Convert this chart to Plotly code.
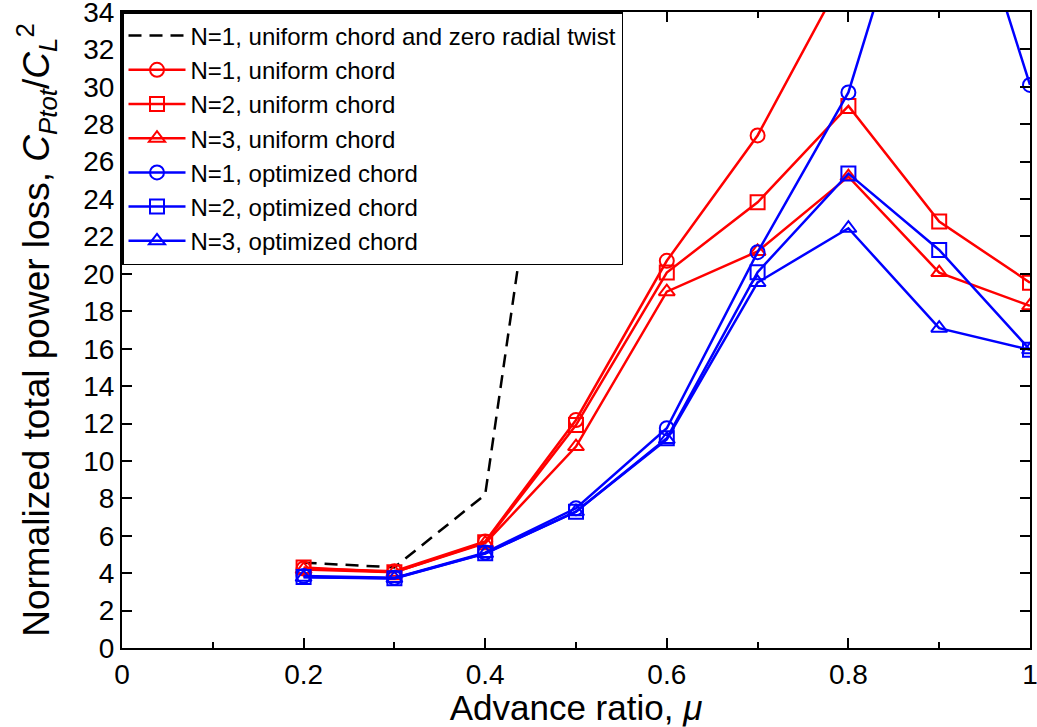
import plotly.graph_objects as go

mu = [0.2, 0.3, 0.4, 0.5, 0.6, 0.7, 0.8, 0.9, 1.0]
mu_dash = [0.2, 0.3, 0.4, 0.5]
dash_n1 = [4.56, 4.31, 8.2, 42.0]
red_n1 = [4.25, 4.1, 5.7, 12.19, 20.7, 27.4, 36.4]
red_n2 = [4.3, 4.05, 5.65, 11.92, 20.07, 23.83, 28.98, 22.8, 19.53]
red_n3 = [4.2, 4.05, 5.6, 10.77, 19.05, 21.2, 25.2, 20.07, 18.29]
blue_n1 = [3.85, 3.75, 5.1, 7.47, 11.75, 21.16, 29.7, 45.5, 30.1]
blue_n2 = [3.8, 3.73, 5.06, 7.29, 11.21, 20.09, 25.36, 21.28, 15.94]
blue_n3 = [3.78, 3.72, 5.05, 7.29, 11.15, 19.54, 22.44, 17.1, 15.94]

x_ticks = [0, 0.2, 0.4, 0.6, 0.8, 1]
x_ticktext = ["0", "0.2", "0.4", "0.6", "0.8", "1"]
x_minor = [0.1, 0.3, 0.5, 0.7, 0.9]
y_ticks = list(range(0, 35, 2))

names = ["N=1, uniform chord and zero radial twist",
         "N=1, uniform chord", "N=2, uniform chord", "N=3, uniform chord",
         "N=1, optimized chord", "N=2, optimized chord", "N=3, optimized chord"]

fig = go.Figure()
fig.add_trace(go.Scatter(x=mu_dash, y=dash_n1, mode="lines", name=names[0],
                         line=dict(color="black", width=2.5, dash="13px,8px")))
series = [(red_n1, "red", "circle-open", names[1]),
          (red_n2, "red", "square-open", names[2]),
          (red_n3, "red", "triangle-up-open", names[3]),
          (blue_n1, "blue", "circle-open", names[4]),
          (blue_n2, "blue", "square-open", names[5]),
          (blue_n3, "blue", "triangle-up-open", names[6])]
for ys, col, sym, nm in series:
    fig.add_trace(go.Scatter(x=mu[:len(ys)], y=ys, mode="lines+markers", name=nm,
                             line=dict(color=col, width=2.5),
                             marker=dict(symbol=sym, size=14, color=col,
                                         line=dict(color=col, width=2))))

fam = "Liberation Sans, Arial"
fig.update_layout(
    width=1037, height=727,
    margin=dict(l=122, r=7, t=12, b=79),
    paper_bgcolor="white", plot_bgcolor="white",
    font=dict(family=fam, color="black"),
    legend=dict(x=0, y=1, xanchor="left", yanchor="top",
                bgcolor="white", bordercolor="black", borderwidth=1.5,
                font=dict(size=24, color="black"), itemwidth=57),
    xaxis=dict(range=[0, 1], tickmode="array",
               tickvals=x_ticks, ticktext=x_ticktext,
               ticks="inside", ticklen=10, tickwidth=1.5, tickcolor="black",
               minor=dict(tickvals=x_minor, ticks="inside",
                          ticklen=6, tickcolor="black", tickwidth=1.5),
               showline=True, linecolor="black", linewidth=2, mirror="allticks",
               showgrid=False, zeroline=False, ticklabeloverflow="allow",
               automargin=False,
               tickfont=dict(size=28),
               title=dict(text="Advance ratio, <i>μ</i>",
                          font=dict(size=35), standoff=0)),
    yaxis=dict(range=[0, 34], tickmode="array", tickvals=y_ticks,
               ticks="inside", ticklen=10, tickwidth=1.5, tickcolor="black",
               showline=True, linecolor="black", linewidth=2, mirror="allticks",
               showgrid=False, zeroline=False, ticklabeloverflow="allow",
               automargin=False,
               tickfont=dict(size=28),
               title=dict(text="Normalized total power loss, <i>C</i><sub><i>Ptot</i></sub>/<i>C</i><sub><i>L</i></sub><sup>2</sup>",
                          font=dict(size=37), standoff=22)),
)
fig.write_html("out.html")
